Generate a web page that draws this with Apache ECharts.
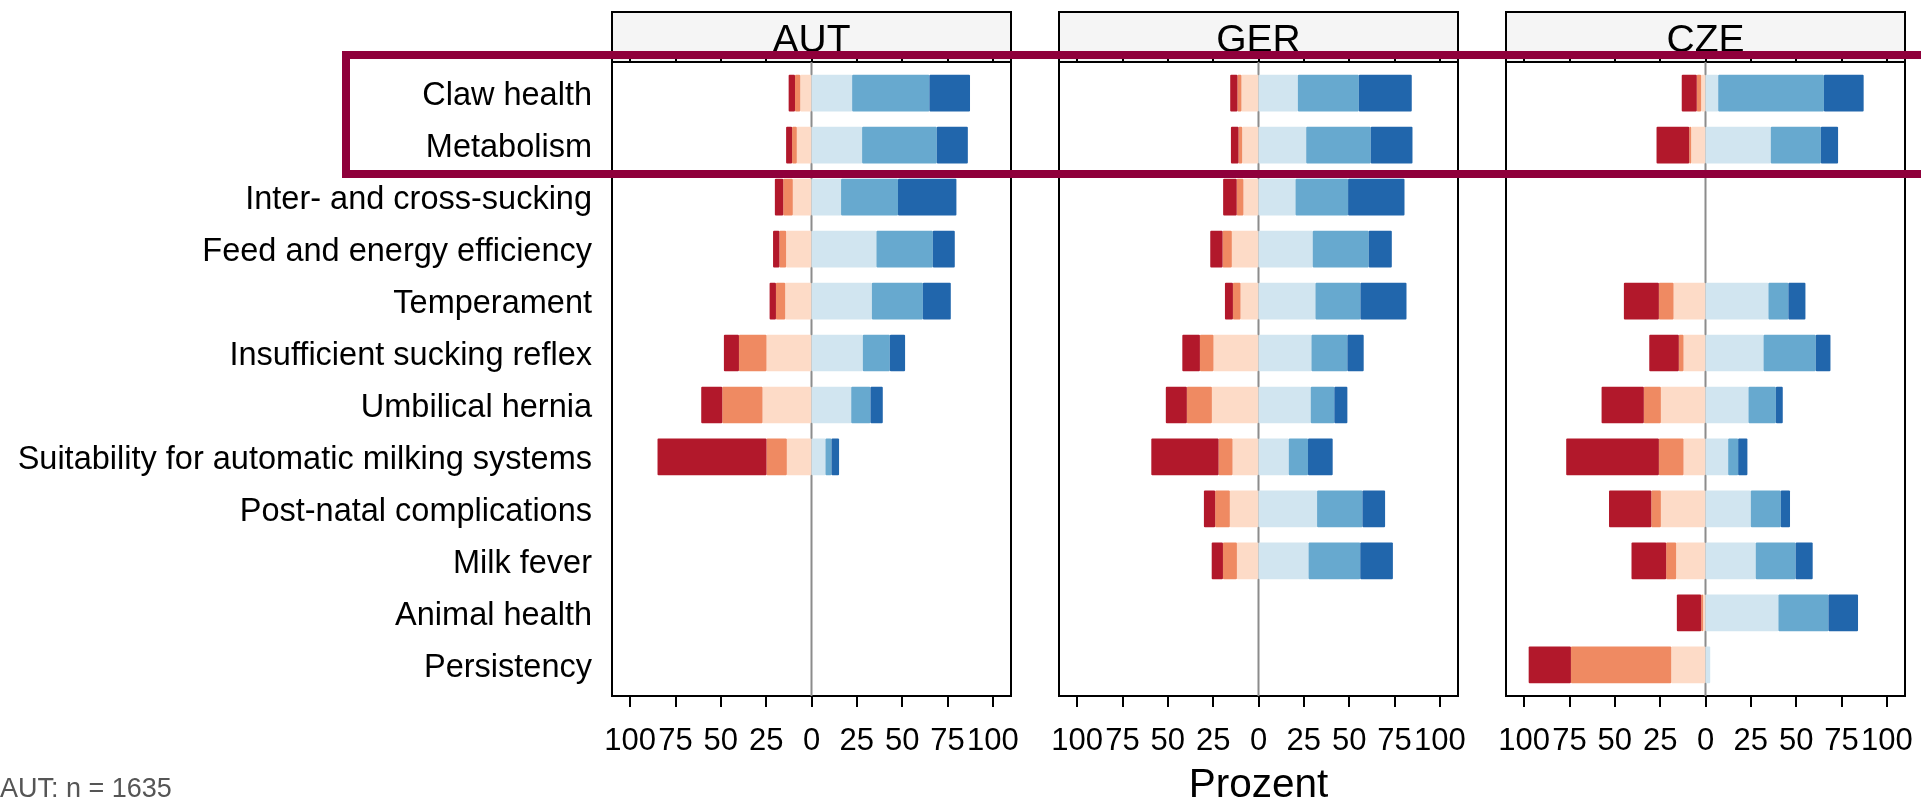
<!DOCTYPE html>
<html><head><meta charset="utf-8">
<script src="https://cdn.jsdelivr.net/npm/echarts@6/dist/echarts.min.js"></script>
<style>html,body{margin:0;padding:0;background:#fff}#c{width:1921px;height:799px}</style>
</head><body><div id="c"></div>
<script>
// ---------- data ----------
const categories = [
  'Claw health', 'Metabolism', 'Inter- and cross-sucking', 'Feed and energy efficiency',
  'Temperament', 'Insufficient sucking reflex', 'Umbilical hernia',
  'Suitability for automatic milking systems', 'Post-natal complications',
  'Milk fever', 'Animal health', 'Persistency'
];
const panelNames = ['AUT', 'GER', 'CZE'];
const levelNames = ['Level 1', 'Level 2', 'Level 3', 'Level 4', 'Level 5', 'Level 6'];
const levelColors = ['#B2182B', '#EF8A62', '#FDDBC7', '#D1E5F0', '#67A9CF', '#2166AC'];
const tickValues = [-100, -75, -50, -25, 0, 25, 50, 75, 100];
// per row: [level1 .. level6] in percent; null = no answers
const AUT = [
  [3.5, 2.9, 6.2, 22.4, 42.6, 22.4],
  [3.3, 2.6, 8.1, 27.9, 41.2, 17.1],
  [4.6, 5.3, 10.3, 16.3, 31.4, 32.2],
  [3.5, 3.7, 14.0, 35.8, 31.1, 12.1],
  [3.5, 5.1, 14.5, 33.3, 28.1, 15.4],
  [8.3, 15.2, 24.8, 28.3, 14.9, 8.4],
  [11.6, 22.2, 27.0, 21.9, 10.6, 6.8],
  [60.1, 11.2, 13.6, 7.7, 3.3, 4.2],
  null, null, null, null
];
const GER = [
  [4.0, 2.2, 9.4, 21.7, 33.6, 29.2],
  [4.2, 2.0, 9.0, 26.3, 35.6, 23.0],
  [7.5, 3.7, 8.3, 20.4, 29.0, 31.1],
  [6.8, 5.1, 14.7, 29.9, 30.9, 12.7],
  [4.4, 4.2, 9.9, 31.4, 24.8, 25.4],
  [9.7, 7.5, 24.8, 29.2, 19.8, 9.0],
  [11.6, 13.8, 25.7, 28.8, 13.0, 7.2],
  [37.1, 7.7, 14.3, 16.7, 10.6, 13.6],
  [6.2, 8.1, 15.8, 32.3, 25.0, 12.5],
  [6.2, 7.7, 11.9, 27.6, 28.5, 18.0],
  null, null
];
const CZE = [
  [8.3, 2.4, 2.4, 7.0, 58.3, 21.9],
  [18.0, 1.1, 7.9, 36.0, 27.6, 9.5],
  null, null,
  [19.3, 8.1, 17.6, 34.7, 11.0, 9.4],
  [16.3, 2.6, 12.1, 32.0, 28.8, 8.1],
  [23.3, 9.4, 24.6, 23.7, 15.1, 3.8],
  [51.1, 13.6, 12.1, 12.5, 5.5, 5.1],
  [23.3, 5.3, 24.6, 25.0, 16.5, 5.1],
  [19.1, 5.5, 16.2, 27.7, 22.0, 9.4],
  [13.4, 1.1, 1.3, 40.2, 27.6, 16.3],
  [23.3, 55.3, 18.9, 2.6, 0, 0]
];
const panelData = [AUT, GER, CZE];
const sampleNote = 'AUT: n = 1635';
const xTitle = 'Prozent';

// ---------- layout ----------
const FONT = "'Liberation Sans', Arial, Helvetica, sans-serif";
const PANEL_LEFT = [612, 1059, 1506];
const PANEL_W = 399;
const XMIN = -110, XMAX = 110;

const grid = [], xAxis = [], yAxis = [], series = [], graphic = [];

panelNames.forEach((name, p) => {
  const left = PANEL_LEFT[p];
  const gFrame = grid.length;
  grid.push({ left: left, top: 62, width: PANEL_W, height: 634, show: true,
              borderColor: '#000', borderWidth: 2, backgroundColor: 'transparent' });
  const gStrip = grid.length;
  grid.push({ left: left, top: 12, width: PANEL_W, height: 50, show: true,
              borderColor: '#000', borderWidth: 2, backgroundColor: '#F5F5F5' });
  const gData = grid.length;
  grid.push({ left: left, top: 67.2, width: PANEL_W, height: 623.6 });

  // frame axes
  const xf = xAxis.length;
  xAxis.push({ type: 'value', gridIndex: gFrame, min: XMIN, max: XMAX, position: 'bottom',
    axisLine: { show: true, lineStyle: { color: '#000', width: 2 } },
    axisTick: { show: true, length: 11, inside: false, customValues: tickValues,
                lineStyle: { color: '#000', width: 2 } },
    axisLabel: { show: true, customValues: tickValues, margin: 30, color: '#000',
                 fontSize: 31, fontFamily: FONT, formatter: v => String(Math.abs(v)) },
    splitLine: { show: false } });
  const yf = yAxis.length;
  yAxis.push({ type: 'value', gridIndex: gFrame, min: 0, max: 1, show: false });
  // zero reference line
  series.push({ type: 'line', xAxisIndex: xf, yAxisIndex: yf, data: [[0, 0], [0, 1]],
    symbol: 'none', silent: true, z: 1, lineStyle: { color: '#8C8C8C', width: 2 } });

  // strip axes (top ticks)
  const xs = xAxis.length;
  xAxis.push({ type: 'value', gridIndex: gStrip, min: XMIN, max: XMAX, position: 'top',
    axisLine: { show: true, lineStyle: { color: '#000', width: 2 } },
    axisTick: { show: true, length: 10, inside: false, customValues: tickValues,
                lineStyle: { color: '#000', width: 2 } },
    axisLabel: { show: false }, splitLine: { show: false } });
  const ys = yAxis.length;
  yAxis.push({ type: 'value', gridIndex: gStrip, min: 0, max: 1, show: false });
  series.push({ type: 'line', xAxisIndex: xs, yAxisIndex: ys, data: [], silent: true });

  // data axes
  const xd = xAxis.length;
  xAxis.push({ type: 'value', gridIndex: gData, min: XMIN, max: XMAX, show: false });
  const yd = yAxis.length;
  yAxis.push({ type: 'category', gridIndex: gData, data: categories, inverse: true,
    axisLine: { show: false }, axisTick: { show: false }, axisLabel: { show: false } });

  const rows = panelData[p];
  // negative side: nearest-to-zero first
  [2, 1, 0, 3, 4, 5].forEach(k => {
    series.push({
      type: 'bar', name: levelNames[k], xAxisIndex: xd, yAxisIndex: yd,
      stack: 'panel' + p, barWidth: 36.7, z: 2,
      itemStyle: { color: levelColors[k], borderRadius: 1 },
      data: rows.map(r => (r === null ? null : (k < 3 ? -r[k] : r[k])))
    });
  });

  graphic.push({ type: 'text', x: left + PANEL_W / 2, y: 41, z: 10,
    style: { text: name, font: '39px ' + FONT, fill: '#000',
             textAlign: 'center', textVerticalAlign: 'middle', align: 'center', verticalAlign: 'middle' } });
});

// category label axis (slightly offset to match text baseline of the reference)
const gLab = grid.length;
grid.push({ left: PANEL_LEFT[0], top: 70.2, width: PANEL_W, height: 623.6 });
const xl = xAxis.length;
xAxis.push({ type: 'value', gridIndex: gLab, min: XMIN, max: XMAX, show: false });
const yl = yAxis.length;
yAxis.push({ type: 'category', gridIndex: gLab, data: categories, inverse: true,
  axisLine: { show: false }, axisTick: { show: false },
  axisLabel: { show: true, margin: 20, color: '#000', fontSize: 32.5, fontFamily: FONT } });
series.push({ type: 'bar', xAxisIndex: xl, yAxisIndex: yl, data: [], silent: true });

graphic.push({ type: 'text', x: PANEL_LEFT[1] + PANEL_W / 2, y: 786, z: 10,
  style: { text: xTitle, font: '40.5px ' + FONT, fill: '#000',
           textAlign: 'center', textVerticalAlign: 'middle', align: 'center', verticalAlign: 'middle' } });
graphic.push({ type: 'text', x: 0, y: 790, z: 10,
  style: { text: sampleNote, font: '27px ' + FONT, fill: '#555',
           textAlign: 'left', textVerticalAlign: 'middle', align: 'left', verticalAlign: 'middle' } });
// highlight box
graphic.push({ type: 'rect', z: 100, silent: true,
  shape: { x: 346, y: 55, width: 1700, height: 119 },
  style: { fill: 'none', stroke: '#8F003B', lineWidth: 8 } });

const chart = echarts.init(document.getElementById('c'), null, { renderer: 'canvas' });
chart.setOption({
  animation: false,
  backgroundColor: '#fff',
  textStyle: { fontFamily: FONT },
  grid, xAxis, yAxis, series, graphic
});
</script></body></html>
